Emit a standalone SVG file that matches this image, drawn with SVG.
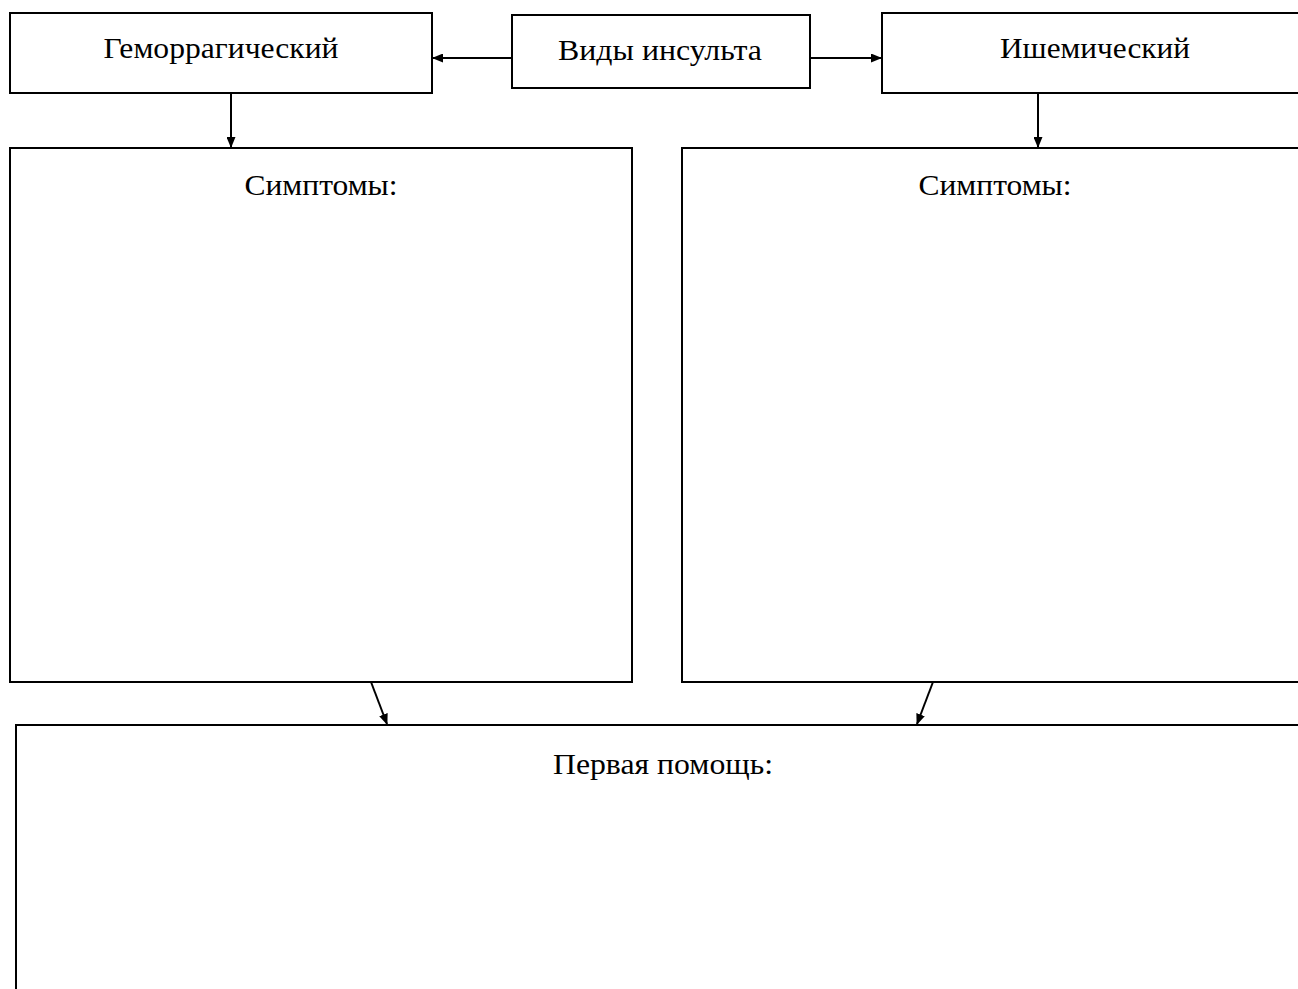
<svg xmlns="http://www.w3.org/2000/svg" width="1298" height="989" viewBox="0 0 1298 989">
<style>
.box{fill:#fff;stroke:#000;stroke-width:2}
.t{font-family:"Liberation Serif","Times New Roman",serif;font-size:29px;fill:#000;text-anchor:middle}
.c{stroke:#000;stroke-width:2;fill:none;marker-end:url(#ah)}
</style>
<defs>
<marker id="ah" markerWidth="11" markerHeight="9" refX="10" refY="4.5" orient="auto" markerUnits="userSpaceOnUse">
<path d="M0,0 L11,4.5 L0,9 Z" fill="#000"/>
</marker>
</defs>
<rect width="1298" height="989" fill="#fff"/>
<g id="hem"><rect class="box" x="10" y="13" width="422" height="80"/><text class="t" x="221" y="58" textLength="235" lengthAdjust="spacingAndGlyphs">Геморрагический</text></g>
<g id="types"><rect class="box" x="512" y="15" width="298" height="73"/><text class="t" x="660" y="60" textLength="204" lengthAdjust="spacingAndGlyphs">Виды инсульта</text></g>
<g id="isch"><rect class="box" x="882" y="13" width="430" height="80"/><text class="t" x="1095" y="58" textLength="190" lengthAdjust="spacingAndGlyphs">Ишемический</text></g>
<g id="sympL"><rect class="box" x="10" y="148" width="622" height="534"/><text class="t" x="321" y="195" textLength="153" lengthAdjust="spacingAndGlyphs">Симптомы:</text></g>
<g id="sympR"><rect class="box" x="682" y="148" width="630" height="534"/><text class="t" x="995" y="195" textLength="153" lengthAdjust="spacingAndGlyphs">Симптомы:</text></g>
<g id="aid"><rect class="box" x="16" y="725" width="1296" height="280"/><text class="t" x="663" y="774" textLength="220" lengthAdjust="spacingAndGlyphs">Первая помощь:</text></g>
<g id="connectors">
<line class="c" x1="512" y1="58" x2="433" y2="58"/>
<line class="c" x1="810" y1="58" x2="881" y2="58"/>
<line class="c" x1="231" y1="93" x2="231" y2="147"/>
<line class="c" x1="1038" y1="93" x2="1038" y2="147"/>
<line class="c" x1="371" y1="682" x2="387" y2="724"/>
<line class="c" x1="933" y1="682" x2="917" y2="724"/>
</g>
</svg>
